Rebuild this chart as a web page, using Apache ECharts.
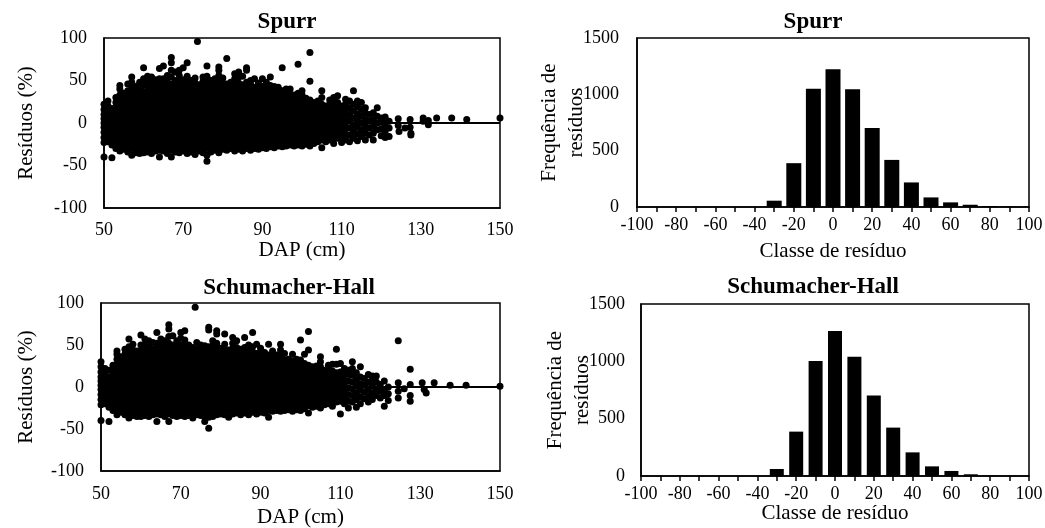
<!DOCTYPE html>
<html><head><meta charset="utf-8">
<script src="https://cdn.jsdelivr.net/npm/echarts@6/dist/echarts.min.js"></script>
<style>html,body{margin:0;padding:0;background:#fff}#c{width:1045px;height:528px}</style>
</head><body><div id="c"></div>
<script>
const dapTicks = [50, 70, 90, 110, 130, 150];
const histClasses = [-100,-90,-80,-70,-60,-50,-40,-30,-20,-10,0,10,20,30,40,50,60,70,80,90,100];
const spurrFreq = [0,0,0,0,0,0,0,56,389,1049,1223,1045,701,418,218,85,41,20,9,3,0];
const shFreq    = [0,0,0,0,0,0,0,61,387,1003,1265,1041,703,422,206,84,44,15,4,2,0];

// Residuals (%) by DAP (cm), grouped by DAP column: [DAP, [residuals...]]
const spurrCols = [
[50,[-40,-23,-17,-11,-5,0,5,10,16,22]],
[51,[-22,-16,-10,-4,2,8,14,20,26]],
[52,[-41,-26,-20,-14,-8,-2,4,10,17]],
[53,[-30,-24,-18,-12,-6,0,6,12,18,24,30]],
[54,[-33,-27,-21,-15,-9,-3,3,9,15,21,27,33,40,44]],
[55,[-31,-25,-19,-13,-7,-1,5,11,17,23,29,35]],
[56,[-34,-28,-22,-16,-10,-4,2,8,14,20,26,32,38,46]],
[57,[-38,-30,-24,-18,-12,-6,0,6,12,18,24,30,36,42,48,54]],
[58,[-35,-29,-23,-17,-11,-5,1,7,13,19,25,31,37,43]],
[59,[-36,-30,-24,-18,-12,-6,0,6,12,18,24,30,36,42,48]],
[60,[-35,-29,-23,-17,-11,-5,1,7,13,19,25,31,37,45,52,65]],
[61,[-34,-28,-22,-16,-10,-4,2,8,14,20,26,32,38,44,50,55]],
[62,[-36,-30,-24,-18,-12,-6,0,6,12,18,24,30,36,42,48,54]],
[63,[-33,-27,-21,-15,-9,-3,3,9,15,21,27,33,39,45,51]],
[64,[-40,-32,-26,-20,-14,-8,-2,4,10,16,22,28,34,40,46,52,64]],
[65,[-33,-27,-21,-15,-9,-3,3,9,15,21,27,33,39,45,52,67]],
[66,[-36,-30,-24,-18,-12,-6,0,6,12,18,24,30,36,42,48,56]],
[67,[-40,-32,-26,-20,-14,-8,-2,4,10,16,22,28,34,40,46,54,62,71,77]],
[68,[-34,-28,-22,-16,-10,-4,2,8,14,20,26,32,38,44,50,60]],
[69,[-35,-29,-23,-17,-11,-5,1,7,13,19,25,31,37,43,49,56,62]],
[70,[-33,-27,-21,-15,-9,-3,3,9,15,21,27,33,39,45,51,65]],
[71,[-36,-30,-24,-18,-12,-6,0,6,12,18,24,30,36,42,48,55,71]],
[72,[-34,-28,-22,-16,-10,-4,2,8,14,20,26,32,38,44,50]],
[73,[-37,-31,-25,-19,-13,-7,-1,5,11,17,23,29,35,41,47,53]],
[74,[-33,-27,-21,-15,-9,-3,3,9,15,21,27,33,39,45]],
[75,[-35,-29,-23,-17,-11,-5,1,7,13,19,25,31,37,43,49,54]],
[76,[-45,-38,-30,-24,-18,-12,-6,0,6,12,18,24,30,36,42,48,55,67]],
[77,[-34,-28,-22,-16,-10,-4,2,8,14,20,26,32,38,44,50]],
[78,[-32,-26,-20,-14,-8,-2,4,10,16,22,28,34,40,46,52]],
[79,[-35,-29,-23,-17,-11,-5,1,7,13,19,25,31,37,43,49,56,62,66]],
[80,[-31,-25,-19,-13,-7,-1,5,11,17,23,29,35,41,47,53]],
[81,[-32,-26,-20,-14,-8,-2,4,10,16,22,28,34,40,46,76]],
[82,[-30,-24,-18,-12,-6,0,6,12,18,24,30,36,42,48]],
[83,[-33,-27,-21,-15,-9,-3,3,9,15,21,27,33,39,45,52,58]],
[84,[-31,-25,-19,-13,-7,-1,5,11,17,23,29,35,41,47,54,60]],
[85,[-33,-27,-21,-15,-9,-3,3,9,15,21,27,33,39,45,55]],
[86,[-30,-24,-18,-12,-6,0,6,12,18,24,30,36,42,48,62,65]],
[87,[-32,-26,-20,-14,-8,-2,4,10,16,22,28,34,40,46,50]],
[88,[-30,-24,-18,-12,-6,0,6,12,18,24,30,36,42,52]],
[89,[-31,-25,-19,-13,-7,-1,5,11,17,23,29,35,41,47]],
[90,[-29,-23,-17,-11,-5,1,7,13,19,25,31,37,43,52]],
[91,[-30,-24,-18,-12,-6,0,6,12,18,24,30,36,42,48]],
[92,[-28,-22,-16,-10,-4,2,8,14,20,26,32,38,44,54]],
[93,[-29,-23,-17,-11,-5,1,7,13,19,25,31,37,43]],
[94,[-27,-21,-15,-9,-3,3,9,15,21,27,33,39,42]],
[95,[-28,-22,-16,-10,-4,2,8,14,20,26,32,38,65]],
[96,[-27,-21,-15,-9,-3,3,9,15,21,27,33,40]],
[97,[-26,-20,-14,-8,-2,4,10,16,22,28,34,40]],
[98,[-27,-21,-15,-9,-3,3,9,15,21,27,33]],
[99,[-26,-20,-14,-8,-2,4,10,16,22,28,35,69]],
[100,[-27,-21,-15,-9,-3,3,9,15,21,27,33,38]],
[101,[-25,-19,-13,-7,-1,5,11,17,23,29]],
[102,[-27,-21,-15,-9,-3,3,9,15,21,27,49,83]],
[103,[-24,-18,-12,-6,0,6,12,18,24]],
[104,[-22,-16,-10,-4,2,8,14,20,26]],
[105,[-29,-20,-14,-8,-2,4,10,16,22,30,38]],
[106,[-22,-16,-10,-4,2,8,14,20]],
[107,[-20,-13,-6,1,8,15,22,27]],
[108,[-24,-17,-10,-3,4,11,18,25,30]],
[109,[-18,-11,-4,3,10,17,24,32]],
[110,[-23,-15,-8,-1,6,13,20]],
[111,[-20,-13,-6,1,8,15,22,28]],
[112,[-22,-14,-6,2,10,18,26]],
[113,[-18,-10,-2,6,14,22,38]],
[114,[-21,-13,-5,3,11,19,26]],
[115,[-16,-8,0,8,16,24]],
[116,[-20,-12,-4,4,12,18]],
[117,[-14,-6,2,10]],
[118,[-20,-12,-4,4,12]],
[119,[-8,0,8,18]],
[120,[-15,-7,1,6]],
[121,[-17,-10,-3,4,7]],
[122,[-16,-6,2]]
];
const spurrExtra = [[73.6,96],[124.3,5],[124.3,-3],[124.5,-10],[126,-6],[127.3,4],[127.3,-5],[127.5,-12],[127.5,-14],[130.6,6],[130.6,2],[131.9,3],[131.9,-2],[134,6],[137.8,6],[141.6,4],[150,6]];

const shCols = [
[50,[-40,-21,-15,-9,-3,2,7,12,18,24,30]],
[51,[-20,-14,-8,-2,4,10,16,22]],
[52,[-41,-24,-18,-12,-6,0,6,12,20]],
[53,[-28,-22,-16,-10,-4,2,8,14,20,26]],
[54,[-33,-27,-21,-15,-9,-3,3,9,15,21,27,33,39,43]],
[55,[-30,-24,-18,-12,-6,0,6,12,18,24,30,36]],
[56,[-33,-27,-21,-15,-9,-3,3,9,15,21,27,33,39,45]],
[57,[-37,-30,-24,-18,-12,-6,0,6,12,18,24,30,36,42,48,57]],
[58,[-34,-28,-22,-16,-10,-4,2,8,14,20,26,32,38,44,51]],
[59,[-35,-29,-23,-17,-11,-5,1,7,13,19,25,31,37,43]],
[60,[-35,-29,-23,-17,-11,-5,1,7,13,19,25,31,37,43,50,62]],
[61,[-34,-28,-22,-16,-10,-4,2,8,14,20,26,32,38,44,50,57]],
[62,[-35,-29,-23,-17,-11,-5,1,7,13,19,25,31,37,43,49,55]],
[63,[-33,-27,-21,-15,-9,-3,3,9,15,21,27,33,39,45,53]],
[64,[-41,-32,-26,-20,-14,-8,-2,4,10,16,22,28,34,40,46,52,65]],
[65,[-33,-27,-21,-15,-9,-3,3,9,15,21,27,33,39,45,51,57]],
[66,[-35,-29,-23,-17,-11,-5,1,7,13,19,25,31,37,43,49,55]],
[67,[-41,-32,-26,-20,-14,-8,-2,4,10,16,22,28,34,40,46,52,60,69,74]],
[68,[-34,-28,-22,-16,-10,-4,2,8,14,20,26,32,38,44,50,61]],
[69,[-35,-29,-23,-17,-11,-5,1,7,13,19,25,31,37,43,49,55]],
[70,[-34,-28,-22,-16,-10,-4,2,8,14,20,26,32,38,44,50,58,65]],
[71,[-35,-29,-23,-17,-11,-5,1,7,13,19,25,31,37,43,49,56,67]],
[72,[-34,-28,-22,-16,-10,-4,2,8,14,20,26,32,38,44,50]],
[73,[-37,-31,-25,-19,-13,-7,-1,5,11,17,23,29,35,41,47]],
[74,[-33,-27,-21,-15,-9,-3,3,9,15,21,27,33,39,45,53]],
[75,[-34,-28,-22,-16,-10,-4,2,8,14,20,26,32,38,44,50]],
[76,[-41,-35,-29,-23,-17,-11,-5,1,7,13,19,25,31,37,43,49]],
[77,[-49,-36,-30,-24,-18,-12,-6,0,6,12,18,24,30,36,42,48,68,71]],
[78,[-35,-29,-23,-17,-11,-5,1,7,13,19,25,31,37,43,49,55]],
[79,[-33,-27,-21,-15,-9,-3,3,9,15,21,27,33,39,45,52,63,67]],
[80,[-32,-26,-20,-14,-8,-2,4,10,16,22,28,34,40,46]],
[81,[-33,-27,-21,-15,-9,-3,3,9,15,21,27,33,39,45,51,63]],
[82,[-36,-28,-22,-16,-10,-4,2,8,14,20,26,32,38,44]],
[83,[-32,-26,-20,-14,-8,-2,4,10,16,22,28,34,40,46,52,59]],
[84,[-31,-25,-19,-13,-7,-1,5,11,17,23,29,35,41,47,55]],
[85,[-33,-27,-21,-15,-9,-3,3,9,15,21,27,33,39,45]],
[86,[-31,-25,-19,-13,-7,-1,5,11,17,23,29,35,41,47,59]],
[87,[-33,-27,-21,-15,-9,-3,3,9,15,21,27,33,39,45,50]],
[88,[-30,-24,-18,-12,-6,0,6,12,18,24,30,36,42,48,65]],
[89,[-32,-26,-20,-14,-8,-2,4,10,16,22,28,34,40,51]],
[90,[-30,-24,-18,-12,-6,0,6,12,18,24,30,36,42,46]],
[91,[-31,-25,-19,-13,-7,-1,5,11,17,23,29,35,41]],
[92,[-36,-28,-22,-16,-10,-4,2,8,14,20,26,32,38,51]],
[93,[-29,-23,-17,-11,-5,1,7,13,19,25,31,37,43]],
[94,[-28,-22,-16,-10,-4,2,8,14,20,26,32,38]],
[95,[-29,-23,-17,-11,-5,1,7,13,19,25,31,37,44,51]],
[96,[-28,-22,-16,-10,-4,2,8,14,20,26,32,40]],
[97,[-27,-21,-15,-9,-3,3,9,15,21,27,33]],
[98,[-29,-23,-17,-11,-5,1,7,13,19,25,31,39]],
[99,[-27,-21,-15,-9,-3,3,9,15,21,27,33]],
[100,[-28,-22,-16,-10,-4,2,8,14,20,26,32,56]],
[101,[-26,-20,-14,-8,-2,4,10,16,22,28,39]],
[102,[-31,-22,-16,-10,-4,2,8,14,20,26,44,66]],
[103,[-24,-18,-12,-6,0,6,12,18,24]],
[104,[-23,-16,-9,-2,5,12,19,25]],
[105,[-25,-18,-11,-4,3,10,17,24,30,36]],
[106,[-21,-14,-7,0,7,14,20]],
[107,[-20,-13,-6,1,8,15,22,26]],
[108,[-23,-16,-9,-2,5,12,19,27]],
[109,[-18,-11,-4,3,10,17,27,45]],
[110,[-32,-17,-10,-3,4,11,18,28]],
[111,[-20,-13,-6,1,8,15,22]],
[112,[-25,-17,-9,-1,7,15,20]],
[113,[-18,-10,-2,6,14,22,30]],
[114,[-24,-15,-7,1,9,17]],
[115,[-20,-12,-4,4,12,24]],
[116,[-14,-6,2,10]],
[117,[-18,-10,-2,6,15]],
[118,[-15,-7,1,9,13]],
[119,[-10,-2,6,13]],
[120,[-13,-5,3]],
[121,[-23,-10,-3,7]],
[122,[-16,-8,0]]
];
const shExtra = [[73.6,95],[124.5,55],[124.5,5],[124.5,-5],[124.5,-13],[126,-2],[127.5,21],[127.5,3],[127.5,-10],[127.5,-17],[130.5,5],[131,-3],[131.5,-7],[133.5,5],[137.5,2],[141.5,2],[150,1]];

function toPairs(cols, extra) {
  const out = [];
  cols.forEach(c => c[1].forEach(y => out.push([c[0], y])));
  extra.forEach(p => out.push(p));
  return out;
}
function toBars(classes, freq) { return classes.map((c, i) => [c, freq[i]]); }

const FONT = '"Liberation Serif","Times New Roman",serif';
const BLACK = '#000';
const tickStyle = { color: BLACK, fontFamily: FONT, fontSize: 18 };
const nameStyle = { color: BLACK, fontFamily: FONT, fontSize: 21 };
const plain = v => String(v);

function scatterX(idx, gap, margin) {
  return { gridIndex: idx, type: 'value', min: 50, max: 150,
    axisLine: { show: true, onZero: false, lineStyle: { color: BLACK, width: 1.5 } },
    axisTick: { show: false }, splitLine: { show: false },
    axisLabel: Object.assign({ customValues: dapTicks, margin: margin, formatter: plain }, tickStyle),
    name: 'DAP (cm)', nameLocation: 'middle', nameGap: gap, nameMoveOverlap: false, nameTextStyle: nameStyle };
}
function scatterY(idx, gap) {
  return { gridIndex: idx, type: 'value', min: -100, max: 100, interval: 50,
    axisLine: { show: true, onZero: false, lineStyle: { color: BLACK, width: 1.5 } },
    axisTick: { show: false }, splitLine: { show: false },
    axisLabel: Object.assign({ margin: 17, formatter: plain }, tickStyle),
    name: 'Resíduos (%)', nameLocation: 'middle', nameGap: gap, nameMoveOverlap: false, nameTextStyle: nameStyle };
}
function histX(idx, gap, margin) {
  return { gridIndex: idx, type: 'value', min: -100, max: 100, interval: 10,
    axisLine: { show: true, onZero: false, lineStyle: { color: BLACK, width: 1.5 } },
    axisTick: { show: true, inside: false, length: 5, lineStyle: { color: BLACK, width: 1.5 } },
    splitLine: { show: false },
    axisLabel: Object.assign({ margin: margin, formatter: v => (v % 20 === 0 ? String(v) : '') }, tickStyle),
    name: 'Classe de resíduo', nameLocation: 'middle', nameGap: gap, nameMoveOverlap: false, nameTextStyle: nameStyle };
}
function histY(idx, gap, margin) {
  return { gridIndex: idx, type: 'value', min: 0, max: 1500, interval: 500,
    axisLine: { show: true, onZero: false, lineStyle: { color: BLACK, width: 1.5 } },
    axisTick: { show: false }, splitLine: { show: false },
    axisLabel: Object.assign({ margin: margin, formatter: plain }, tickStyle),
    name: 'Frequência de\nresíduos', nameLocation: 'middle', nameGap: gap, nameMoveOverlap: false,
    nameTextStyle: Object.assign({ lineHeight: 27 }, nameStyle) };
}
function scatterSeries(idx, data) {
  return { type: 'scatter', xAxisIndex: idx, yAxisIndex: idx, data: data, symbolSize: 7,
    itemStyle: { color: BLACK, opacity: 1 }, silent: true, large: false,
    markLine: { silent: true, symbol: 'none', label: { show: false },
      lineStyle: { color: BLACK, width: 2, type: 'solid', opacity: 1 }, data: [{ yAxis: 0 }] } };
}
function barSeries(idx, data, w) {
  return { type: 'bar', xAxisIndex: idx, yAxisIndex: idx, data: data, barWidth: w,
    itemStyle: { color: BLACK, opacity: 1 }, silent: true };
}
function titleText(text, x, y) {
  return { type: 'text', x: x, y: y, silent: true,
    style: { text: text, fill: BLACK, font: 'bold 23px ' + FONT,
      textAlign: 'center', textVerticalAlign: 'middle', align: 'center', verticalAlign: 'middle' } };
}

const gridBase = { show: true, borderColor: BLACK, borderWidth: 1.5, backgroundColor: 'transparent',
  containLabel: false, outerBoundsMode: 'none' };
const option = {
  animation: false,
  backgroundColor: '#fff',
  grid: [
    Object.assign({ left: 104, top: 38, width: 396, height: 170 }, gridBase),
    Object.assign({ left: 637, top: 38, width: 392, height: 169 }, gridBase),
    Object.assign({ left: 101, top: 303, width: 399, height: 168 }, gridBase),
    Object.assign({ left: 641, top: 304, width: 388, height: 172 }, gridBase)
  ],
  xAxis: [ scatterX(0, 32, 13), histX(1, 34, 9), scatterX(2, 36, 14), histX(3, 27, 9) ],
  yAxis: [ scatterY(0, 67), histY(1, 47, 18), scatterY(2, 64), histY(3, 45, 16) ],
  series: [
    scatterSeries(0, toPairs(spurrCols, spurrExtra)),
    barSeries(1, toBars(histClasses, spurrFreq), 15),
    scatterSeries(2, toPairs(shCols, shExtra)),
    barSeries(3, toBars(histClasses, shFreq), 14)
  ],
  graphic: [
    titleText('Spurr', 287, 22),
    titleText('Spurr', 813, 22),
    titleText('Schumacher-Hall', 289, 288),
    titleText('Schumacher-Hall', 813, 287)
  ]
};
const chart = echarts.init(document.getElementById('c'), null, { renderer: 'canvas' });
chart.setOption(option);
</script>
</body></html>
